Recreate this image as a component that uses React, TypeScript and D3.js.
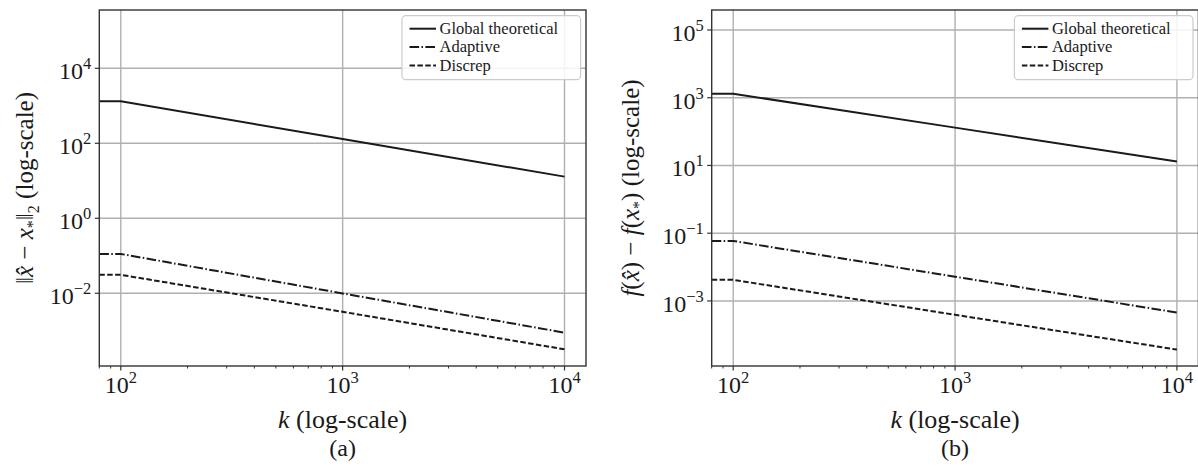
import React from 'react';
import * as d3 from 'd3';

// k values (x) shared by both panels
const kValues = [80, 100, 1000, 10000];

// panel (a): ||x_hat - x*||_2
const globalA = [1320, 1320, 130, 12.9];
const adaptiveA = [0.112, 0.112, 0.0099, 0.00089];
const discrepA = [0.031, 0.031, 0.0032, 0.00032];

// panel (b): f(x_hat) - f(x*)
const globalB = [1313, 1313, 131, 13.1];
const adaptiveB = [0.059, 0.059, 0.0052, 0.000454];
const discrepB = [0.0042, 0.0042, 0.00039, 0.0000366];

const xTickExps = [2, 3, 4];
const yTickExpsA = [4, 2, 0, -2];
const yTickExpsB = [5, 3, 1, -1, -3];

const seriesNames = ['Global theoretical', 'Adaptive', 'Discrep'];
const dashes = [null, '9.6,2.4,1.5,2.4', '5.5,2.4'];

const INK = '#1a1a1a';
const GRID = '#b0b0b0';

const expLabel = (e: number) => (e < 0 ? '\u2212' + Math.abs(e) : String(e));

function Panel({ left, right, yDomain, yExps, series, caption, yLabel, labelX, clipId }) {
  const top = 10;
  const bottom = 366;
  const x = d3.scaleLog().domain([80, 12500]).range([left, right]);
  const y = d3.scaleLog().domain(yDomain).range([bottom, top]);
  const line = d3.line().x((_, i) => x(kValues[i])).y(d => y(d));

  const minor = [];
  [10, 100, 1000].forEach(dec => {
    for (let m = 2; m <= 9; m++) {
      const v = dec * m;
      if (v >= 80 && v <= 12500) minor.push(v);
    }
  });

  const cx = (left + right) / 2;
  const lgX = right - 184;
  const lgY = 15.7;

  return (
    <g>
      <defs>
        <clipPath id={clipId}>
          <rect x={left} y={top} width={right - left} height={bottom - top} />
        </clipPath>
      </defs>
      {/* grid */}
      {xTickExps.map(e => (
        <line key={'gx' + e} x1={x(10 ** e)} x2={x(10 ** e)} y1={top} y2={bottom} stroke={GRID} strokeWidth={1.4} />
      ))}
      {yExps.map(e => (
        <line key={'gy' + e} x1={left} x2={right} y1={y(10 ** e)} y2={y(10 ** e)} stroke={GRID} strokeWidth={1.4} />
      ))}
      {/* series */}
      <g clipPath={`url(#${clipId})`}>
        {series.map((s, i) => (
          <path key={i} d={line(s) || ''} fill="none" stroke={INK} strokeWidth={2}
            strokeDasharray={dashes[i] || undefined} />
        ))}
      </g>
      {/* spines */}
      <rect x={left} y={top} width={right - left} height={bottom - top} fill="none" stroke="#333" strokeWidth={1.4} />
      {/* x ticks */}
      {xTickExps.map(e => (
        <g key={'xt' + e}>
          <line x1={x(10 ** e)} x2={x(10 ** e)} y1={bottom} y2={bottom + 4.5} stroke="#333" strokeWidth={1.2} />
          <text x={x(10 ** e)} y={393} textAnchor="middle" fontSize={24} fill={INK}>
            10<tspan fontSize={16.5} dy={-10}>{expLabel(e)}</tspan>
          </text>
        </g>
      ))}
      {minor.map(v => (
        <line key={'mn' + v} x1={x(v)} x2={x(v)} y1={bottom} y2={bottom + 2.5} stroke="#333" strokeWidth={1} />
      ))}
      {/* y ticks */}
      {yExps.map(e => (
        <g key={'yt' + e}>
          <line x1={left - 4.5} x2={left} y1={y(10 ** e)} y2={y(10 ** e)} stroke="#333" strokeWidth={1.2} />
          <text x={left - 8} y={y(10 ** e) + 11} textAnchor="end" fontSize={24} fill={INK}>
            10<tspan fontSize={16.5} dy={-10}>{expLabel(e)}</tspan>
          </text>
        </g>
      ))}
      {/* axis labels */}
      <text x={cx} y={428} textAnchor="middle" fontSize={26} fill={INK}>
        <tspan fontStyle="italic">k</tspan> (log-scale)
      </text>
      <g transform={`translate(${labelX},${(top + bottom) / 2}) rotate(-90)`}>
        <text x={0} y={0} textAnchor="middle" fontSize={25} fill={INK}>
          {yLabel}
        </text>
      </g>
      <text x={cx} y={456} textAnchor="middle" fontSize={24} fill={INK}>
        {caption}
      </text>
      {/* legend */}
      <rect x={lgX} y={lgY} width={178.6} height={64} rx={4} ry={4} fill="white" fillOpacity={0.85}
        stroke="#cccccc" strokeWidth={1.2} />
      {seriesNames.map((name, i) => {
        const ry = lgY + 13 + i * 18.4;
        return (
          <g key={name}>
            <line x1={lgX + 7.5} x2={lgX + 34} y1={ry} y2={ry} stroke={INK} strokeWidth={2}
              strokeDasharray={dashes[i] || undefined} />
            <text x={lgX + 37.5} y={ry + 5.2} fontSize={16.5} fill={INK}>{name}</text>
          </g>
        );
      })}
    </g>
  );
}

export default function App() {
  const labelA = (
    <>
      {'\u2016'}<tspan fontStyle="italic">{'x\u0302'}</tspan>{' \u2212 '}
      <tspan fontStyle="italic">x</tspan><tspan fontSize={16} dy={5}>*</tspan>
      <tspan dy={-5}>{'\u2016'}</tspan><tspan fontSize={16} dy={6}>2</tspan>
      <tspan dy={-6}>{'  (log-scale)'}</tspan>
    </>
  );
  const labelB = (
    <>
      <tspan fontStyle="italic">f</tspan>(<tspan fontStyle="italic">{'x\u0302'}</tspan>){' \u2212 '}
      <tspan fontStyle="italic">f</tspan>(<tspan fontStyle="italic">x</tspan>
      <tspan fontSize={16} dy={5}>*</tspan><tspan dy={-5}>)</tspan>{'  (log-scale)'}
    </>
  );
  return (
    <svg width={1198} height={470}
      style={{ position: 'absolute', left: 0, top: 0, background: 'white', fontFamily: 'Liberation Serif' }}>
      <g style={{ fontFamily: 'Liberation Serif' }}>
        <Panel left={99.3} right={586} yDomain={[1.148e-4, 3.59e5]} yExps={yTickExpsA}
          series={[globalA, adaptiveA, discrepA]} caption="(a)" yLabel={labelA} labelX={33} clipId="clipA" />
        <Panel left={711.7} right={1198.4} yDomain={[1.2e-5, 3.89e5]} yExps={yTickExpsB}
          series={[globalB, adaptiveB, discrepB]} caption="(b)" yLabel={labelB} labelX={639} clipId="clipB" />
      </g>
    </svg>
  );
}
